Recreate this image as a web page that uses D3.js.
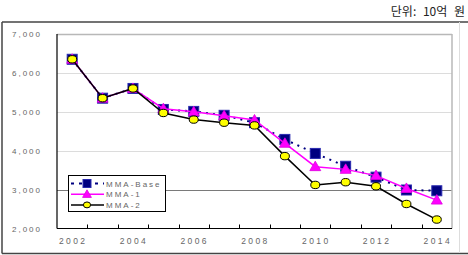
<!DOCTYPE html>
<html>
<head>
<meta charset="utf-8">
<script src="https://cdn.jsdelivr.net/npm/d3@7"></script>
<style>
  body { margin: 0; background: #fff; }
  svg { display: block; }
  .tick-label { font-family: "Liberation Sans", Arial, sans-serif; fill: #666; }
</style>
</head>
<body>
<svg id="chart" width="468" height="255"></svg>
<script>
// ----- data -----
var years = ['2002','2003','2004','2005','2006','2007','2008','2009','2010','2011','2012','2013','2014'];
var yTicks = [2000, 3000, 4000, 5000, 6000, 7000];
var mmaBase = [6350, 5350, 5600, 5060, 5010, 4910, 4720, 4290, 3930, 3600, 3320, 2990, 2970];
var mma1    = [6350, 5350, 5600, 5080, 5000, 4900, 4790, 4190, 3590, 3520, 3360, 3030, 2730];
var mma2    = [6350, 5350, 5600, 4970, 4800, 4720, 4650, 3860, 3120, 3190, 3085, 2630, 2230];
var seriesNames = ['MMA-Base', 'MMA-1', 'MMA-2'];

var svg = d3.select('#chart');

// title
svg.append('text')
   .attr('x', 465).attr('y', 16)
   .attr('text-anchor', 'end')
   .style('font-family', '"Noto Sans CJK KR", sans-serif')
   .style('font-size', '12px')
   .style('word-spacing', '4px')
   .style('fill', '#222')
   .text('단위: 10억 원');

// outer frame
svg.append('line').attr('x1', 2).attr('y1', 22).attr('x2', 468).attr('y2', 22)
   .attr('stroke', '#444').attr('stroke-width', 1.5);
svg.append('line').attr('x1', 2).attr('y1', 22).attr('x2', 2).attr('y2', 253.5)
   .attr('stroke', '#444').attr('stroke-width', 1.5);
svg.append('line').attr('x1', 2).attr('y1', 253.5).attr('x2', 468).attr('y2', 253.5)
   .attr('stroke', '#444').attr('stroke-width', 1.5);
svg.append('line').attr('x1', 459.5).attr('y1', 22).attr('x2', 459.5).attr('y2', 253)
   .attr('stroke', '#ddd').attr('stroke-width', 1);

var plot = {left: 57, right: 452, top: 34, bottom: 228.5};

var x = d3.scaleBand().domain(years).range([plot.left, plot.right]);
var y = d3.scaleLinear().domain([2000, 7000]).range([plot.bottom, plot.top]);

// gridlines
svg.selectAll('line.grid')
   .data(yTicks.filter(function(d) { return d > 2000; }))
   .enter().append('line')
   .attr('class', 'grid')
   .attr('x1', plot.left).attr('x2', plot.right)
   .attr('y1', function(d) { return Math.round(y(d)) + 0.5; })
   .attr('y2', function(d) { return Math.round(y(d)) + 0.5; })
   .attr('stroke', function(d) { return d === 3000 ? '#7a7a7a' : (d === 7000 ? '#b8b8b8' : '#dcdcdc'); })
   .attr('stroke-width', function(d) { return d === 7000 ? 1.5 : 1; });

// right border of plot
svg.append('line').attr('x1', plot.right).attr('x2', plot.right)
   .attr('y1', plot.top).attr('y2', plot.bottom)
   .attr('stroke', '#b8b8b8').attr('stroke-width', 1.5);

// y labels
svg.selectAll('text.ylab')
   .data(yTicks)
   .enter().append('text')
   .attr('class', 'tick-label ylab')
   .attr('x', 42).attr('y', function(d) { return y(d) + 3; })
   .attr('text-anchor', 'end')
   .style('font-size', '8px')
   .style('letter-spacing', '2px')
   .text(function(d) { return d3.format(',')(d); });

// axes lines
svg.append('line').attr('x1', plot.left).attr('x2', plot.left)
   .attr('y1', plot.top).attr('y2', plot.bottom)
   .attr('stroke', '#000').attr('stroke-width', 1.2);
svg.append('line').attr('x1', plot.left).attr('x2', plot.right)
   .attr('y1', plot.bottom).attr('y2', plot.bottom)
   .attr('stroke', '#000').attr('stroke-width', 1.2);

// x ticks between categories
svg.selectAll('line.xtick')
   .data(years.slice(1))
   .enter().append('line')
   .attr('class', 'xtick')
   .attr('x1', function(d) { return Math.round(x(d)) + 0.5; })
   .attr('x2', function(d) { return Math.round(x(d)) + 0.5; })
   .attr('y1', plot.bottom).attr('y2', plot.bottom - 4)
   .attr('stroke', '#000');

// x labels (every other year)
svg.selectAll('text.xlab')
   .data(years.filter(function(d, i) { return i % 2 === 0; }))
   .enter().append('text')
   .attr('class', 'tick-label xlab')
   .attr('x', function(d) { return x(d) + x.bandwidth() / 2 + 1; })
   .attr('y', 244)
   .attr('text-anchor', 'middle')
   .style('font-size', '8.5px')
   .style('letter-spacing', '2.4px')
   .text(function(d) { return d; });

var cx = function(d, i) { return x(years[i]) + x.bandwidth() / 2; };
var line = d3.line().x(cx).y(function(d) { return y(d); });

// ----- markers -----
function square(sel, k) {
  sel.append('rect')
     .attr('width', 10 * k).attr('height', 10 * k)
     .attr('x', -5 * k).attr('y', -5 * k)
     .attr('fill', '#000080').attr('stroke', '#2a2ab0').attr('stroke-width', 1);
}
function triangle(sel, k) {
  sel.append('path')
     .attr('d', 'M0,' + (-5.5 * k) + ' L' + (5.5 * k) + ',' + (4 * k) + ' L' + (-5.5 * k) + ',' + (4 * k) + ' Z')
     .attr('fill', '#ff00ff').attr('stroke', '#e000e0').attr('stroke-width', 0.8);
}
function circle(sel, k) {
  sel.append('ellipse')
     .attr('rx', 4.5 * k).attr('ry', 3.7 * k)
     .attr('fill', '#ffff00').attr('stroke', '#000').attr('stroke-width', 1);
}

var series = [
  {name: seriesNames[0], values: mmaBase, color: '#000080', dash: '2,5', width: 2, marker: square},
  {name: seriesNames[1], values: mma1, color: '#ff00ff', dash: null, width: 1.5, marker: triangle},
  {name: seriesNames[2], values: mma2, color: '#000', dash: null, width: 1.5, marker: circle}
];

series.forEach(function(s) {
  svg.append('path')
     .datum(s.values)
     .attr('d', line)
     .attr('fill', 'none')
     .attr('stroke', s.color)
     .attr('stroke-width', s.width)
     .attr('stroke-dasharray', s.dash);
  var pts = svg.selectAll(null)
     .data(s.values)
     .enter().append('g')
     .attr('transform', function(d, i) { return 'translate(' + cx(d, i) + ',' + y(d) + ')'; });
  s.marker(pts, 1);
});

// ----- legend -----
var legend = svg.append('g');
legend.append('rect')
      .attr('x', 68.5).attr('y', 175.5).attr('width', 97).attr('height', 36)
      .attr('fill', '#fff').attr('stroke', '#000').attr('stroke-width', 1);
series.forEach(function(s, i) {
  var ly = 183.5 + i * 10.7;
  legend.append('line')
        .attr('x1', 71).attr('x2', 104).attr('y1', ly).attr('y2', ly)
        .attr('stroke', s.color).attr('stroke-width', s.width)
        .attr('stroke-dasharray', s.dash ? '3,5' : null);
  var m = legend.append('g').attr('transform', 'translate(87,' + ly + ')');
  s.marker(m, 0.8);
  legend.append('text')
        .attr('class', 'tick-label')
        .attr('x', 106).attr('y', ly + 3)
        .style('font-size', '8px')
        .style('letter-spacing', '2px')
        .text(s.name);
});
</script>
</body>
</html>
